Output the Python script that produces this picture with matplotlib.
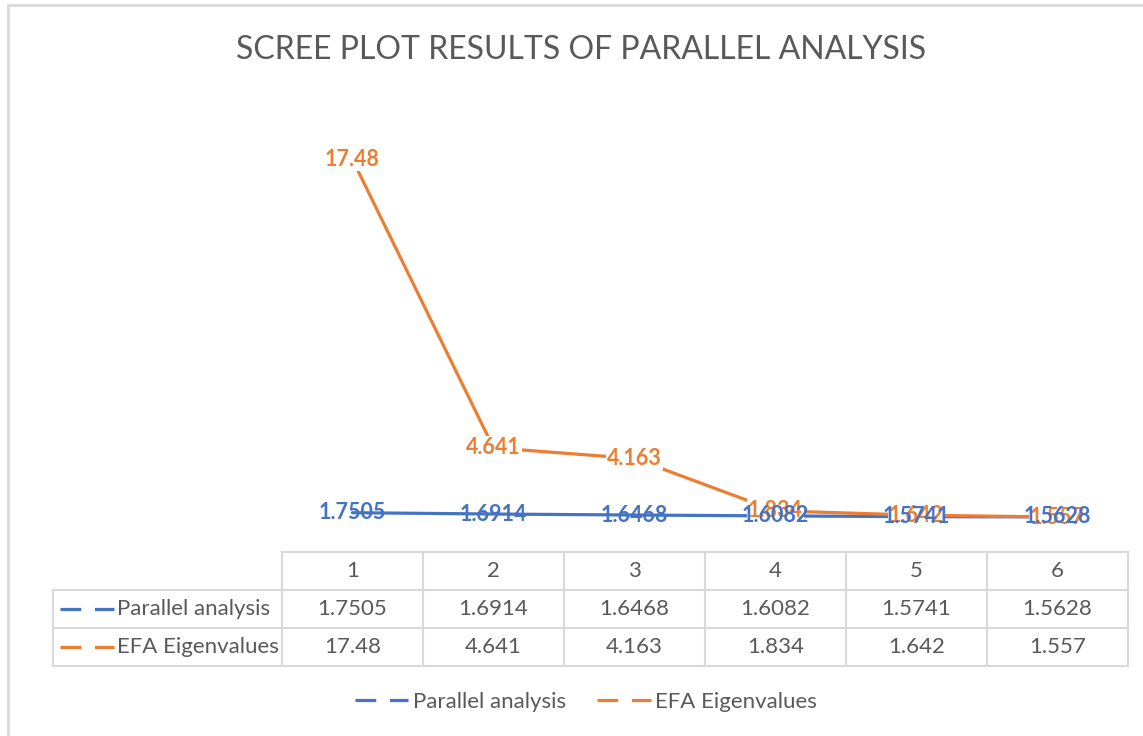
import matplotlib
matplotlib.use("Agg")
import matplotlib.pyplot as plt
from matplotlib.lines import Line2D
from matplotlib.patches import Rectangle
from matplotlib.transforms import blended_transform_factory

plt.rcParams['font.family'] = ['Lato', 'DejaVu Sans']

# data
categories = ['1', '2', '3', '4', '5', '6']
parallel = [1.7505, 1.6914, 1.6468, 1.6082, 1.5741, 1.5628]
eigen = [17.48, 4.641, 4.163, 1.834, 1.642, 1.557]
parallel_txt = ['1.7505', '1.6914', '1.6468', '1.6082', '1.5741', '1.5628']
eigen_txt = ['17.48', '4.641', '4.163', '1.834', '1.642', '1.557']
series_names = ['Parallel analysis', 'EFA Eigenvalues']

BLUE = '#4472C4'
ORANGE = '#ED7D31'
GRID = '#D9D9D9'
TEXT = '#595959'
DASH = (0, (6.5, 4.3))

W, H = 1143, 736
fig = plt.figure(figsize=(W / 100, H / 100), dpi=100)


def fx(px):
    return px / W


def fy(py):
    return 1 - py / H


# chart frame
fig.add_artist(Rectangle((fx(8), fy(740)), fx(1150) - fx(8), fy(5) - fy(740),
                         transform=fig.transFigure, fill=False, edgecolor=GRID, lw=2))

fig.text(fx(581), fy(50), 'SCREE PLOT RESULTS OF PARALLEL ANALYSIS', ha='center', va='center',
         fontsize=23, color=TEXT)

# plot area: x from 282 to 1128, y from 103 (20) to 552 (0)
ax = fig.add_axes([fx(282), fy(552), fx(1128) - fx(282), fy(103) - fy(552)])
x = list(range(1, len(categories) + 1))
ax.set_xlim(0.5, len(categories) + 0.5)
ax.set_ylim(0, 20)
ax.axis('off')

ax.plot(x, parallel, color=BLUE, lw=2.3, solid_capstyle='round', zorder=2)
ax.plot(x, eigen, color=ORANGE, lw=2.3, solid_capstyle='round', zorder=3)
for xi, v, t in zip(x, eigen, eigen_txt):
    ax.text(xi, v, t, ha='center', va='center', color=ORANGE, fontsize=15.5, fontweight='bold', zorder=4,
            bbox=dict(boxstyle='square,pad=0.05', fc='white', ec='none'))
for xi, v, t in zip(x, parallel, parallel_txt):
    ax.text(xi, v, t, ha='center', va='center', color=BLUE, fontsize=15.5, fontweight='bold', zorder=5)

# data table
tr = blended_transform_factory(ax.transData, fig.transFigure)
rows_y = [552, 590, 628, 666]
col_edges = [282 + 141 * i for i in range(len(categories) + 1)]
for xe in col_edges:
    fig.add_artist(Line2D([fx(xe), fx(xe)], [fy(552), fy(666)], color=GRID, lw=1.5))
fig.add_artist(Line2D([fx(53), fx(53)], [fy(590), fy(666)], color=GRID, lw=1.5))
fig.add_artist(Line2D([fx(282), fx(1128)], [fy(552), fy(552)], color=GRID, lw=1.5))
for yy in rows_y[1:]:
    fig.add_artist(Line2D([fx(53), fx(1128)], [fy(yy), fy(yy)], color=GRID, lw=1.5))

for xi, c in zip(x, categories):
    ax.text(xi, fy(571), c, transform=tr, ha='center', va='center', fontsize=16, color=TEXT)
for row, (vals, name, col) in enumerate(zip([parallel_txt, eigen_txt], series_names, [BLUE, ORANGE])):
    yc = (rows_y[row + 1] + rows_y[row + 2]) / 2
    for xi, t in zip(x, vals):
        ax.text(xi, fy(yc), t, transform=tr, ha='center', va='center', fontsize=16, color=TEXT)
    fig.add_artist(Line2D([fx(60), fx(114)], [fy(yc), fy(yc)], color=col, lw=2.3, ls=DASH))
    fig.text(fx(117), fy(yc), name, ha='left', va='center', fontsize=16, color=TEXT)

# legend
handles = [Line2D([], [], color=c, lw=2.3, ls=DASH) for c in [BLUE, ORANGE]]
fig.legend(handles, series_names, loc='center', bbox_to_anchor=(fx(586), fy(702)), ncol=2,
           frameon=False, fontsize=16, labelcolor=TEXT, handlelength=2.4, handletextpad=0.2,
           columnspacing=1.4)

fig.savefig('out.png', dpi=100)
